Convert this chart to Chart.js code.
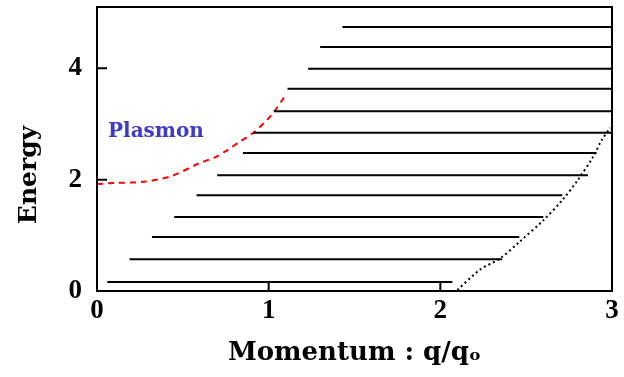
<!DOCTYPE html>
<html>
<head>
<meta charset="utf-8">
<script src="https://cdn.jsdelivr.net/npm/chart.js@4.4.1/dist/chart.umd.min.js"></script>
<style>
  html, body { margin: 0; padding: 0; background: #fff; }
  #wrap { width: 624px; height: 377px; }
</style>
</head>
<body>
<div id="wrap"><canvas id="myChart" width="624" height="377"></canvas></div>
<script>
// tick labels
const qTicks = [0, 1, 2, 3];
const eTicks = [0, 2, 4];

// particle-hole continuum: one horizontal line per energy level
const levels = [0.16, 0.57, 0.97, 1.33, 1.72, 2.08, 2.48, 2.84, 3.23, 3.63, 3.99, 4.38, 4.74];
const lineStart = [0.06, 0.19, 0.32, 0.45, 0.58, 0.70, 0.85, 0.91, 1.03, 1.11, 1.23, 1.30, 1.43];
const lineEnd = [2.07, 2.36, 2.46, 2.60, 2.71, 2.86, 2.91, 3.0, 3.0, 3.0, 3.0, 3.0, 3.0];

// plasmon branch (red dashed)
const plasmonQ = [0, 0.10, 0.27, 0.43, 0.60, 0.68, 0.76, 0.83, 0.91, 0.99, 1.03, 1.09];
const plasmonE = [1.92, 1.94, 1.96, 2.06, 2.30, 2.39, 2.53, 2.68, 2.84, 3.07, 3.21, 3.48];

// lower edge of the continuum (black dotted)
const edgeQ = [2.10, 2.23, 2.35, 2.46, 2.60, 2.71, 2.80, 2.89, 2.94, 2.99];
const edgeE = [0.02, 0.38, 0.59, 0.88, 1.27, 1.63, 1.99, 2.41, 2.71, 2.93];

const continuum = [];
levels.forEach((e, i) => {
  continuum.push({ x: lineStart[i], y: e }, { x: lineEnd[i], y: e }, { x: lineEnd[i], y: null });
});

const serif = "'DejaVu Serif', serif";
const tickFont = { family: "'Liberation Serif', serif", size: 27, weight: "bold" };

// frame, inward tick marks and the free-standing labels
const framePlugin = {
  id: "frame",
  afterDatasetsDraw(chart) {
    const { ctx, chartArea: a, scales: { x, y } } = chart;
    ctx.save();
    ctx.strokeStyle = "#000";
    ctx.lineWidth = 2;
    ctx.strokeRect(a.left, a.top, a.width, a.height);
    ctx.beginPath();
    qTicks.forEach((v) => {
      const px = x.getPixelForValue(v);
      ctx.moveTo(px, a.bottom);
      ctx.lineTo(px, a.bottom - 9);
    });
    eTicks.forEach((v) => {
      const py = y.getPixelForValue(v);
      ctx.moveTo(a.left, py);
      ctx.lineTo(a.left + 10, py);
    });
    ctx.stroke();

    ctx.fillStyle = "#3c3cc8";
    ctx.font = "bold 20px " + serif;
    ctx.textAlign = "left";
    ctx.textBaseline = "middle";
    ctx.fillText("Plasmon", a.left + 11, y.getPixelForValue(2.85));

    ctx.fillStyle = "#000";
    ctx.font = "bold 25px " + serif;
    ctx.textAlign = "center";
    ctx.translate(29, 175);
    ctx.rotate(-Math.PI / 2);
    ctx.fillText("Energy", 0, 0);
    ctx.restore();
  },
};

new Chart(document.getElementById("myChart").getContext("2d"), {
  type: "line",
  data: {
    datasets: [
      {
        data: continuum,
        borderColor: "#000",
        borderWidth: 2,
        pointRadius: 0,
        spanGaps: false,
        tension: 0,
      },
      {
        data: plasmonQ.map((q, i) => ({ x: q, y: plasmonE[i] })),
        borderColor: "#ff0000",
        borderWidth: 2,
        borderDash: [6, 5],
        pointRadius: 0,
        tension: 0.3,
      },
      {
        data: edgeQ.map((q, i) => ({ x: q, y: edgeE[i] })),
        borderColor: "#000",
        borderWidth: 2,
        borderDash: [2, 3],
        pointRadius: 0,
        tension: 0.3,
      },
    ],
  },
  options: {
    responsive: false,
    animation: false,
    layout: { padding: { top: 7, right: 12, left: 0, bottom: 0 } },
    plugins: { legend: { display: false }, tooltip: { enabled: false } },
    scales: {
      x: {
        type: "linear",
        min: 0,
        max: 3,
        afterBuildTicks: (s) => { s.ticks = qTicks.map((v) => ({ value: v })); },
        afterFit: (s) => { s.height = 86; s.paddingLeft = 0; s.paddingRight = 0; },
        grid: { display: false },
        border: { display: false },
        ticks: { color: "#000", padding: -4, font: tickFont },
        title: {
          display: true,
          text: "Momentum : q/qₒ",
          color: "#000",
          font: { family: serif, size: 26, weight: "bold" },
          padding: { top: 0, bottom: 8 },
        },
      },
      y: {
        min: 0,
        max: 5.1,
        afterBuildTicks: (s) => { s.ticks = eTicks.map((v) => ({ value: v })); },
        afterFit: (s) => { s.width = 97; s.paddingTop = 0; s.paddingBottom = 0; },
        grid: { display: false },
        border: { display: false },
        ticks: { color: "#000", padding: 7, font: tickFont },
      },
    },
  },
  plugins: [framePlugin],
});
</script>
</body>
</html>
